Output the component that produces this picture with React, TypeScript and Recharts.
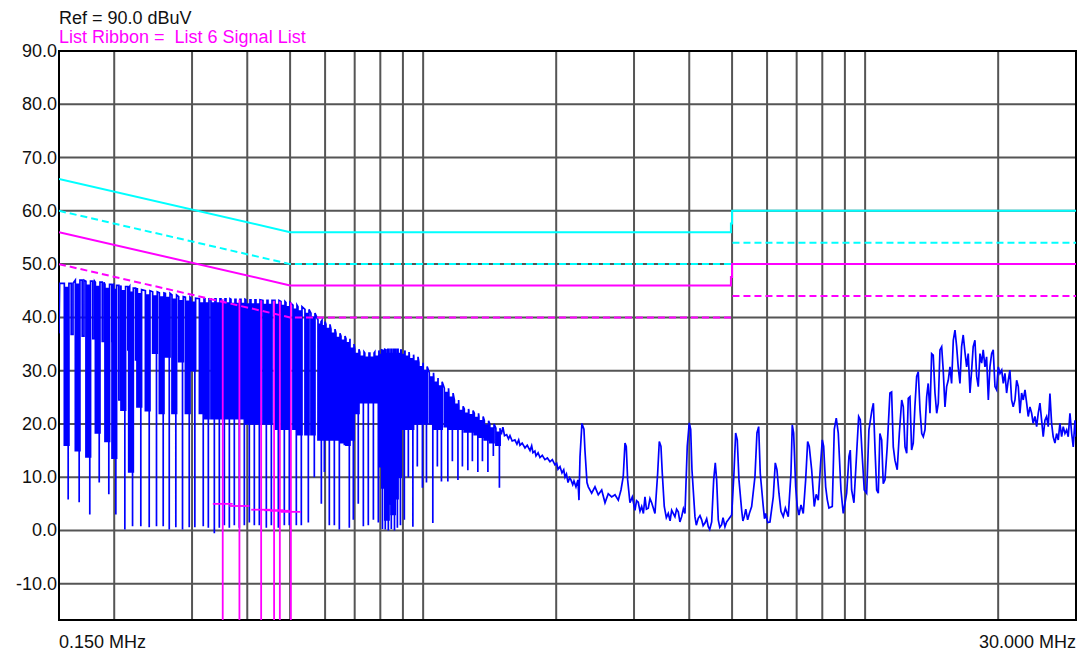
import React from 'react';
import {
  ComposedChart,
  Line,
  XAxis,
  YAxis,
  CartesianGrid,
  ReferenceLine,
  ReferenceArea,
} from 'recharts';

// ---------- axes ----------
const freqDomain: [number, number] = [0.15, 30];
const levelDomain: [number, number] = [-16.8, 90];
const gridFreqsMHz = [0.15, 0.2, 0.3, 0.4, 0.5, 0.6, 0.7, 0.8, 0.9, 1, 2, 3, 4, 5, 6, 7, 8, 9, 10, 20, 30];
const labelFreqsMHz = [0.15, 30];
const levelTicks = [-10, 0, 10, 20, 30, 40, 50, 60, 70, 80, 90];

// ---------- header texts ----------
const refText = 'Ref = 90.0 dBuV';
const ribbonText = 'List Ribbon =  List 6 Signal List';

// ---------- limit lines ----------
const limitFreqs = [0.15, 0.5, 4.97, 4.97, 5, 5, 30];
const qpLimit = [66, 56, 56, 57.6, 57.6, 60, 60];
const avLimit = [56, 46, 46, 47.6, 47.6, 50, 50];
const dashFreqs = [0.15, 0.5, 4.98, 5, 5.01, 30];
const qpMargin = [60, 50, 50, null, 54, 54];
const avMargin = [50, 40, 40, null, 44, 44];

// ---------- signal list markers ----------
const markerFreqs = [0.352, 0.384, 0.43, 0.46, 0.474, 0.502];
const markerPeaks = [43.4, 43.3, 43.2, 43.1, 43.0, 42.8];
const markerAvg = [5.0, 4.6, 3.9, 3.8, 3.7, 3.5];

// ---------- measured trace ----------
// start of sweep
const traceStart: [number, number][] = [[0.15, 37], [0.1505, 46.4]];
// low comb teeth: [MHz, top dBuV, dip dBuV, deepest dBuV, shoulder notch dBuV]
const combLowTeeth: [number, number, number, number, number | null][] = [
  [0.1561, 46.4, 16, 5.8, 36.8], [0.1653, 47, 15, 5.3, 36.5], [0.1747, 46.8, 13.8, 3, 36], [0.1835, 46.6, 18.3, 9, 35.5],
  [0.1929, 46.2, 16.7, 6.8, 35.5], [0.2001, 46, 13.6, 3, 24.5], [0.2097, 45.8, 22.6, 0.2, 33.9], [0.2183, 45.5, 11, 0.8, 32],
  [0.2279, 45.2, 23.2, 0.8, null], [0.2381, 45, 22.5, 0.6, null], [0.2473, 44.8, 33.3, 0.8, null], [0.2561, 44.6, 22, 0.8, null],
  [0.2643, 44.5, 32.6, 0.2, null], [0.2735, 44.2, 22, 0.6, null], [0.2832, 43.9, 31.7, 0.2, null], [0.2933, 43.8, 22, 0.6, null],
  [0.302, 43.6, 30, 0.6, null], [0.3155, 43.5, 22, 0.8, null],
];
// denser comb teeth: [MHz, top dBuV, dip dBuV, deepest dBuV]
const combMidTeeth: [number, number, number, number][] = [
  [0.3243, 43.5, 21, 0.5], [0.3346, 43.5, 21, -0.5], [0.3434, 43.5, 21, 0.5], [0.3525, 43.5, 21, 1],
  [0.3618, 43.5, 21, 0.5], [0.3713, 43.4, 21, 1], [0.3811, 43.4, 21, 0.5], [0.3912, 43.4, 21, 1],
  [0.4015, 43.3, 20, 1.5], [0.4121, 43.3, 20, 1], [0.423, 43.3, 20, 1], [0.4387, 43.2, 20, 0.5],
  [0.4503, 43.2, 20, 1], [0.467, 43.2, 19, 0.5], [0.4818, 43, 19, 1], [0.4945, 42.8, 19, 1],
  [0.5129, 42.3, 19, 1], [0.5264, 42, 18, 1], [0.546, 41.5, 18, 1.5], [0.5633, 40.8, 18, 10],
  [0.5843, 39.5, 17, 5], [0.5935, 39.2, 17, 11], [0.6091, 38.7, 17, 1], [0.6252, 37.8, 17, 1],
  [0.6417, 37, 17, 0.2], [0.6587, 36.5, 16.5, 16], [0.676, 36, 16, 0.5],
];
const humpTeeth: [number, number, number, number][] = [
  [0.69, 35, 17, 2], [0.708, 34, 22, 5], [0.727, 33.5, 24, 0.8], [0.746, 33.3, 24, 1],
  [0.766, 33.3, 24, 2], [0.786, 33.5, 24, 1.5], [0.803, 33.8, 12, 0.3], [0.815, 33.9, 8, 0.2],
  [0.828, 34, 2, 0], [0.841, 34, 5, 0.3], [0.855, 34, 3, 0], [0.868, 34, 6, 0.5],
  [0.882, 34, 10, 1], [0.9, 33.8, 19, 2], [0.919, 33.5, 19, 10], [0.941, 33, 19, 0.7],
  [0.963, 32.6, 20, 12], [0.989, 31.5, 20, 8], [1.01, 30.8, 20, 9], [1.044, 29.6, 20, 1.4],
  [1.069, 28.6, 19, 12], [1.092, 27.9, 19, 9.2], [1.129, 26.7, 19.5, 9.2], [1.156, 25.8, 19, 13],
  [1.19, 24.5, 19, 9.5], [1.218, 23.3, 19, 12], [1.253, 22.8, 18.5, 11.3], [1.283, 22.5, 18.5, 13],
  [1.32, 22, 18, 11], [1.352, 21.4, 17.5, 13], [1.391, 20.6, 17, 11], [1.431, 20, 16.5, 14],
  [1.477, 19.2, 16, 8],
];
// single-line part of the sweep: [MHz, dBuV]
const traceSlope: [number, number][] = [
  [1.492, 18.9], [1.505, 18.3], [1.515, 19.4], [1.528, 17.8], [1.545, 18.0], [1.56, 17.2], [1.572, 17.8],
  [1.59, 16.8], [1.613, 17.0], [1.63, 16.2], [1.645, 17.0], [1.656, 16.0], [1.675, 16.4], [1.7, 15.5],
  [1.72, 16.0], [1.745, 15.0], [1.76, 15.9], [1.772, 14.6], [1.79, 14.9], [1.8, 14.0], [1.82, 14.6],
  [1.838, 13.7], [1.86, 14.1], [1.886, 13.3], [1.91, 13.6], [1.936, 12.9], [1.96, 13.3], [1.987, 12.3],
  [2.005, 12.6], [2.019, 11.5], [2.04, 12.0], [2.061, 10.8], [2.08, 11.4], [2.094, 10.0], [2.11, 10.6],
  [2.127, 9.0], [2.145, 9.9], [2.16, 9.5], [2.18, 8.6], [2.194, 9.3], [2.217, 8.2], [2.24, 9.5],
  [2.252, 5.7], [2.264, 13.8], [2.287, 20.1], [2.311, 19.0], [2.323, 15.1], [2.348, 9.0],
];
const traceFloor: [number, number][] = [
  [2.364, 8.2], [2.406, 7.0], [2.448, 8.2], [2.49, 6.7], [2.535, 7.6], [2.579, 5.2], [2.623, 6.9],
  [2.67, 6.3], [2.717, 6.7], [2.764, 5.7], [2.803, 7.6], [2.836, 10.1], [2.862, 16.4], [2.881, 15.8],
  [2.902, 9.5], [2.937, 5.2], [2.973, 6.3], [3.015, 3.8], [3.04, 5.6], [3.067, 5.3], [3.095, 3.6],
  [3.122, 4.5], [3.15, 3.2], [3.176, 6.3], [3.2, 4.0], [3.231, 4.2], [3.26, 6.0], [3.289, 5.2],
  [3.346, 3.2], [3.393, 10.7], [3.422, 16.7], [3.452, 15.8], [3.476, 10.7], [3.512, 4.5], [3.55, 2.4],
  [3.586, 3.2], [3.62, 1.8], [3.65, 3.8], [3.713, 2.6], [3.745, 4.0], [3.778, 3.5], [3.81, 1.6],
  [3.845, 2.6], [3.88, 4.1], [3.912, 3.2], [3.959, 15.8], [4.0, 20.2], [4.03, 19.0], [4.057, 11.4],
  [4.121, 2.6], [4.15, 1.0], [4.192, 2.3], [4.23, 2.8], [4.267, 2.0], [4.3, 0.9], [4.341, 1.4],
  [4.38, 2.2], [4.417, 0.7], [4.45, 0.2], [4.496, 1.6], [4.543, 9.5], [4.581, 12.7], [4.614, 9.5],
  [4.653, 2.0], [4.69, 0.6], [4.736, 1.1], [4.77, 2.4], [4.818, 0.7], [4.86, 1.6], [4.902, 2.0],
  [4.989, 2.9], [5.049, 10.7], [5.094, 18.3], [5.137, 17.0], [5.183, 9.5], [5.256, 3.8], [5.29, 1.8],
  [5.328, 2.6], [5.37, 4.0], [5.423, 2.0], [5.48, 3.4], [5.537, 4.5], [5.633, 10.1], [5.692, 18.3],
  [5.743, 19.5], [5.791, 10.7], [5.882, 4.5], [5.92, 2.2], [5.956, 3.2], [6.02, 1.5], [6.091, 1.6],
  [6.197, 6.3], [6.262, 12.7], [6.317, 11.4], [6.383, 7.0], [6.45, 3.6], [6.528, 2.6], [6.6, 4.2],
  [6.7, 2.6], [6.795, 10.7], [6.841, 19.8], [6.891, 18.3], [6.964, 8.2], [7.02, 4.6], [7.085, 2.9],
  [7.16, 4.8], [7.245, 3.2], [7.336, 9.5], [7.413, 16.7], [7.475, 15.8], [7.569, 11.4], [7.672, 4.5],
  [7.75, 6.8], [7.834, 5.7], [7.932, 12.7], [8.0, 17.0], [8.057, 15.8], [8.142, 8.2], [8.21, 5.8],
  [8.283, 4.2], [8.427, 4.5], [8.515, 19.0], [8.604, 21.1], [8.694, 18.3], [8.817, 7.6], [8.923, 3.2],
  [9.083, 7.0], [9.193, 13.9], [9.255, 15.1], [9.322, 7.6], [9.434, 5.2], [9.568, 14.5], [9.669, 21.4],
  [9.75, 20.8], [9.836, 14.9], [9.955, 7.6], [10.08, 7.0], [10.2, 18.9], [10.36, 22.6], [10.44, 23.9],
  [10.53, 15.1], [10.62, 7.6], [10.71, 7.0],
];
const traceHigh: [number, number][] = [
  [10.8, 18.2], [10.9, 17.0], [10.99, 8.8], [11.09, 9.5], [11.22, 15.7], [11.38, 25.8], [11.48, 26.0],
  [11.58, 15.7], [11.68, 13.2], [11.82, 11.4], [11.95, 18.2], [12.1, 24.5], [12.2, 23.2], [12.31, 15.7],
  [12.42, 14.5], [12.52, 24.8], [12.63, 25.1], [12.74, 15.1], [12.85, 16.4], [12.96, 23.2], [13.08, 28.9],
  [13.19, 29.8], [13.31, 22.6], [13.43, 18.2], [13.54, 17.6], [13.66, 18.9], [13.78, 25.1], [13.89, 27.6],
  [14.02, 22.0], [14.14, 33.2], [14.26, 32.9], [14.39, 25.8], [14.52, 22.0], [14.64, 23.9], [14.77, 33.9],
  [14.9, 34.5], [15.02, 30.1], [15.16, 23.2], [15.29, 27.0], [15.42, 28.2], [15.56, 30.7], [15.69, 27.6],
  [15.83, 35.7], [15.97, 37.6], [16.11, 34.5], [16.24, 30.7], [16.39, 27.6], [16.53, 34.5], [16.67, 36.7],
  [16.82, 33.5], [16.97, 30.7], [17.11, 33.2], [17.27, 25.8], [17.42, 30.1], [17.56, 34.5], [17.72, 35.7],
  [17.88, 28.9], [18.03, 27.0], [18.19, 33.2], [18.35, 31.4], [18.5, 33.9], [18.67, 30.7], [18.83, 32.6],
  [19.0, 24.5], [19.16, 30.7], [19.33, 33.2], [19.49, 33.9], [19.67, 27.0], [19.84, 26.4], [20.01, 30.7],
  [20.19, 29.5], [20.37, 30.1], [20.54, 27.6], [20.72, 29.5], [20.9, 25.8], [21.08, 28.2], [21.26, 30.1],
  [21.45, 24.5], [21.63, 23.2], [21.83, 24.5], [22.02, 28.2], [22.21, 27.0], [22.4, 22.0], [22.6, 25.8],
  [22.79, 24.5], [23.0, 26.4], [23.2, 23.9], [23.39, 21.4], [23.6, 23.2], [23.81, 22.0], [24.0, 20.1],
  [24.22, 21.4], [24.44, 19.5], [24.64, 22.0], [24.86, 23.9], [25.08, 20.7], [25.29, 17.6], [25.52, 20.7],
  [25.74, 21.4], [25.96, 19.5], [26.19, 25.7], [26.42, 20.1], [26.64, 17.6], [26.88, 16.4], [27.12, 18.2],
  [27.35, 17.0], [27.59, 20.1], [27.84, 17.6], [28.07, 19.5], [28.32, 18.2], [28.57, 18.9], [28.81, 17.6],
  [29.07, 22.0], [29.33, 18.2], [29.57, 15.7], [29.84, 20.7], [30.0, 17.6],
];

// ---------- build series objects ----------
type Pt = { f: number; v: number | null };
// each comb tooth is drawn as two narrow dips (one carrying the deepest spike)
function toothPoints(f: number, top: number, dip: number, deep: number, w: number): Pt[] {
  const a = f * (1 - w);
  const b = f * (1 - w / 3);
  const c = f * (1 + w / 3);
  const d = f * (1 + (2 * w) / 3);
  const e = f * (1 + w);
  const top2 = top - 0.8;
  return [
    { f: a, v: top }, { f: a, v: dip }, { f: b, v: dip }, { f: b, v: top2 },
    { f: c, v: top2 }, { f: c, v: dip }, { f: d, v: dip }, { f: d, v: deep },
    { f: d, v: dip }, { f: e, v: dip }, { f: e, v: top },
  ];
}
function teethPoints(teeth: [number, number, number, number][], w: number): Pt[] {
  return teeth.flatMap(([f, top, dip, deep]) => toothPoints(f, top, dip, deep, w));
}
function notchedTeethPoints(teeth: [number, number, number, number, number | null][], w: number): Pt[] {
  return teeth.flatMap(([f, top, dip, deep, notch]) => [
    ...toothPoints(f, top, dip, deep, w),
    ...(notch === null
      ? []
      : [
          { f: f * (1 + 2 * w), v: top },
          { f: f * (1 + 2 * w), v: notch },
          { f: f * (1 + 2.8 * w), v: notch },
          { f: f * (1 + 2.8 * w), v: top },
        ]),
  ]);
}
const pairs = (a: [number, number][]): Pt[] => a.map(([f, v]) => ({ f, v }));
const traceData: Pt[] = [
  ...pairs(traceStart),
  ...notchedTeethPoints(combLowTeeth, 0.012),
  ...teethPoints(combMidTeeth, 0.0105),
  ...teethPoints(humpTeeth, 0.011),
  ...pairs(traceSlope),
  ...pairs(traceFloor),
  ...pairs(traceHigh),
];
const zip = (fs: number[], vs: (number | null)[]): Pt[] => fs.map((f, i) => ({ f, v: vs[i] }));
const qpData = zip(limitFreqs, qpLimit);
const avData = zip(limitFreqs, avLimit);
const qpDashData = zip(dashFreqs, qpMargin);
const avDashData = zip(dashFreqs, avMargin);

const FONT = '"Liberation Sans", Arial, Helvetica, sans-serif';
const CYAN = '#00ffff';
const MAGENTA = '#ff00ff';

const YTick = (props: any) => {
  const { x, y, payload } = props;
  return (
    <text x={x} y={y} dy={6} textAnchor="end" fontSize={18} fontFamily={FONT} fill="#111">
      {Number(payload.value).toFixed(1)}
    </text>
  );
};

const XTick = (props: any) => {
  const { x, y, payload } = props;
  if (!labelFreqsMHz.includes(payload.value)) return <g />;
  const anchor = payload.value === labelFreqsMHz[0] ? 'start' : 'end';
  return (
    <text x={x} y={y} dy={28} textAnchor={anchor} fontSize={18} fontFamily={FONT} fill="#111">
      {`${Number(payload.value).toFixed(3)} MHz`}
    </text>
  );
};

export default function App() {
  return (
    <div style={{ position: 'absolute', left: 0, top: 0, width: 1079, height: 653, background: '#fff' }}>
      <ComposedChart width={1079} height={653} margin={{ top: 51, right: 3, bottom: 0, left: 0 }}>
        <CartesianGrid stroke="#555" strokeWidth={2} />
        <XAxis
          type="number"
          dataKey="f"
          scale="log"
          domain={freqDomain}
          allowDataOverflow
          ticks={gridFreqsMHz}
          interval={0}
          tick={<XTick />}
          tickLine={false}
          axisLine={false}
          tickSize={0}
          tickMargin={0}
          height={33}
        />
        <YAxis
          type="number"
          domain={levelDomain}
          allowDataOverflow
          ticks={levelTicks}
          interval={0}
          tick={<YTick />}
          tickLine={false}
          axisLine={false}
          tickSize={0}
          tickMargin={2}
          width={59}
        />
        <Line data={traceData} dataKey="v" type="linear" stroke="#0000ff" strokeWidth={1.7} dot={false} activeDot={false} isAnimationActive={false} />
        <Line data={qpDashData} dataKey="v" type="linear" stroke={CYAN} strokeWidth={2} strokeDasharray="7 4" dot={false} activeDot={false} isAnimationActive={false} />
        <Line data={avDashData} dataKey="v" type="linear" stroke={MAGENTA} strokeWidth={2} strokeDasharray="7 4" dot={false} activeDot={false} isAnimationActive={false} />
        <Line data={qpData} dataKey="v" type="linear" stroke={CYAN} strokeWidth={2} dot={false} activeDot={false} isAnimationActive={false} />
        <Line data={avData} dataKey="v" type="linear" stroke={MAGENTA} strokeWidth={2} dot={false} activeDot={false} isAnimationActive={false} />
        {markerFreqs.map((f, i) => (
          <ReferenceLine
            key={`mv${i}`}
            segment={[{ x: f, y: markerPeaks[i] }, { x: f, y: levelDomain[0] }]}
            stroke={MAGENTA}
            strokeWidth={1.8}
            ifOverflow="visible"
          />
        ))}
        {markerFreqs.map((f, i) => (
          <ReferenceLine
            key={`mh${i}`}
            segment={[{ x: f / 1.053, y: markerAvg[i] }, { x: f * 1.053, y: markerAvg[i] }]}
            stroke={MAGENTA}
            strokeWidth={1.8}
            ifOverflow="visible"
          />
        ))}
        <ReferenceArea
          x1={freqDomain[0]}
          x2={freqDomain[1]}
          y1={levelDomain[0]}
          y2={levelDomain[1]}
          fill="none"
          fillOpacity={0}
          stroke="#000"
          strokeWidth={2}
          ifOverflow="visible"
        />
      </ComposedChart>
      <svg width={1079} height={60} style={{ position: 'absolute', left: 0, top: 0, pointerEvents: 'none' }}>
        <text x={59} y={24} fontSize={18} fontFamily={FONT} fill="#111">{refText}</text>
        <text x={59} y={43} fontSize={18} fontFamily={FONT} fill={MAGENTA} style={{ whiteSpace: 'pre' }}>{ribbonText}</text>
      </svg>
    </div>
  );
}
